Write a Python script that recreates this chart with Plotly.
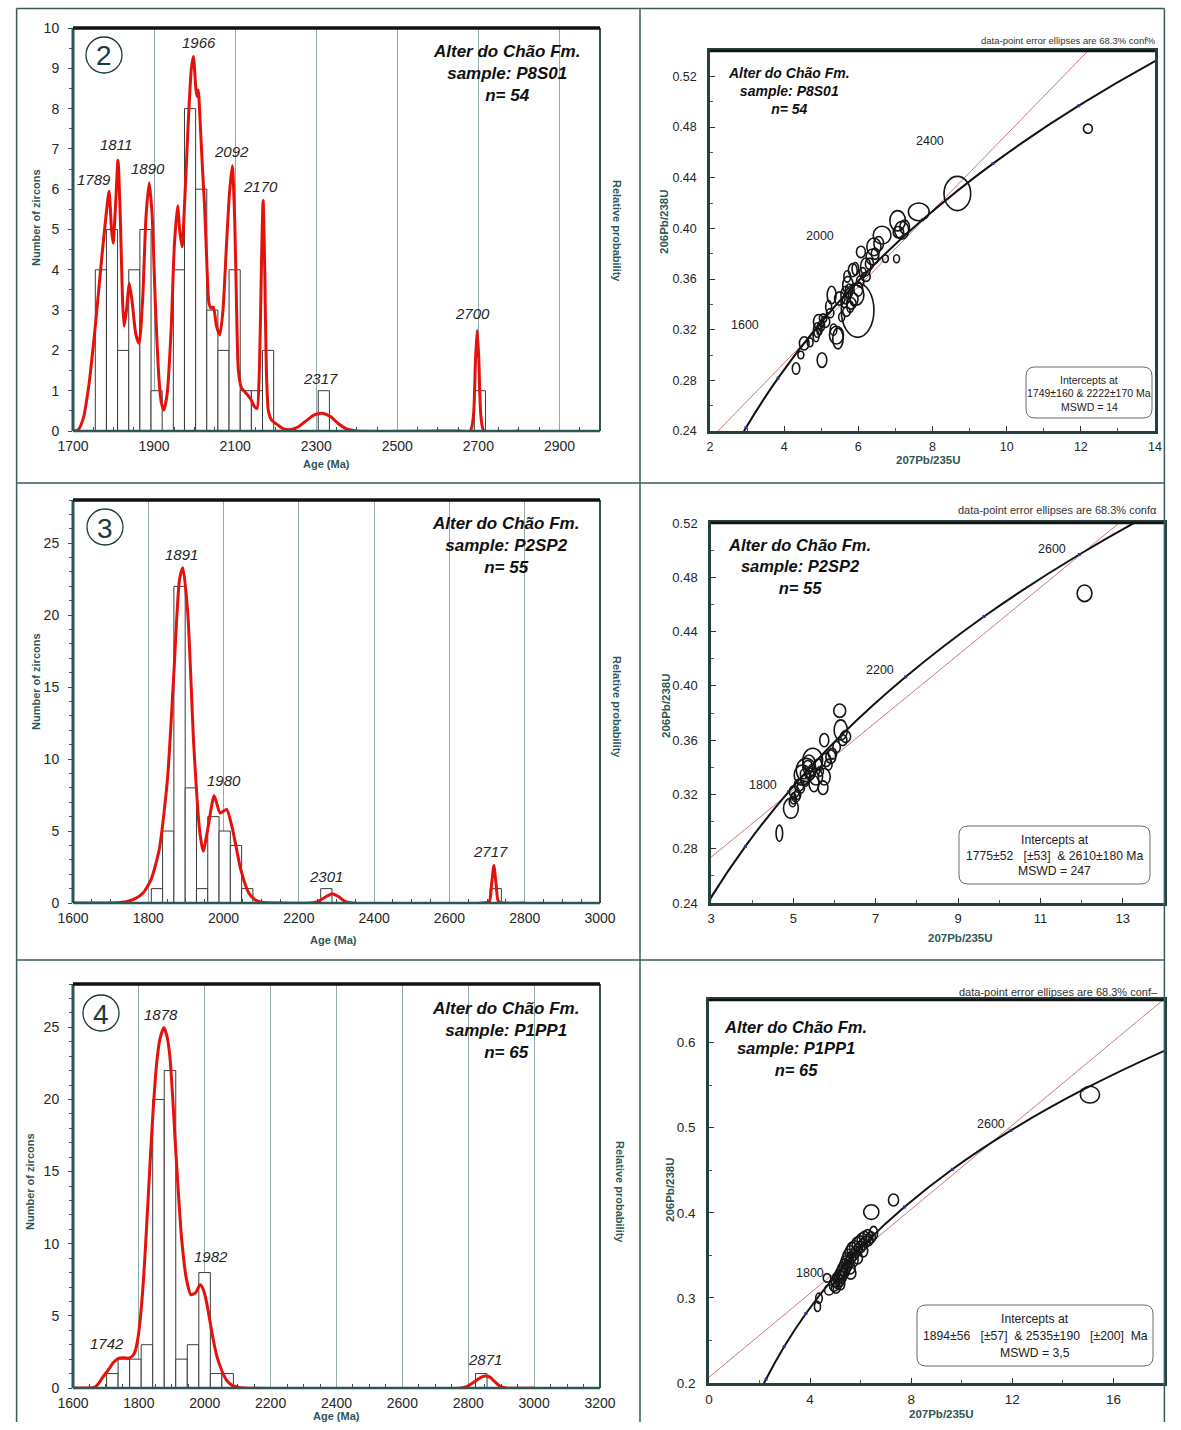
import plotly.graph_objects as go

W, H = 1181, 1430
FONT = "Liberation Sans, Arial, sans-serif"
TEAL = "#2d5757"
GRID = "#94aaaa"
INK = "#262626"
RED = "#e3120b"
FRAME = "#3d5a5a"

# ---------------- sample P8S01 ----------------
p8_bin_w = 27.5
p8_bin_mid = [1768.75, 1796.25, 1823.75, 1851.25, 1878.75, 1906.25, 1961.25, 1988.75,
              2016.25, 2043.75, 2071.25, 2098.75, 2126.25, 2153.75, 2181.25, 2318.75, 2703.75]
p8_counts = [4, 5, 2, 4, 5, 1, 4, 8, 6, 3, 2, 4, 1, 1, 2, 1, 1]
p8_pdf_age = [1700, 1712, 1725, 1740, 1755, 1770, 1782, 1789, 1795, 1799, 1805, 1811, 1817, 1822,
              1826, 1832, 1839, 1846, 1855, 1863, 1872, 1880, 1888, 1895, 1903, 1912, 1918, 1924,
              1932, 1942, 1950, 1958, 1963, 1969, 1976, 1985, 1992, 1997, 2003, 2006, 2009, 2014,
              2020, 2025, 2030, 2035, 2040, 2046, 2054, 2062, 2070, 2078, 2086, 2093, 2099, 2104,
              2108, 2116, 2126, 2138, 2148, 2154, 2160, 2165, 2169, 2173, 2177, 2182, 2190, 2205,
              2220, 2235, 2255, 2275, 2295, 2315, 2335, 2355, 2375, 2400, 2650, 2680, 2688, 2693,
              2697, 2701, 2706, 2714, 2800]
p8_pdf_val = [0, 0.02, 0.3, 1.2, 2.6, 4.2, 5.4, 5.95, 5.0, 4.66, 5.6, 6.72, 5.2, 3.3,
              2.6, 3.0, 3.66, 3.2, 2.4, 2.18, 3.3, 5.3, 6.16, 5.4, 3.2, 1.3, 0.7, 0.52,
              0.9, 2.5, 4.6, 5.59, 5.0, 4.57, 5.8, 7.8, 9.0, 9.29, 8.5, 8.3, 8.46, 7.6,
              6.4, 5.5, 4.2, 3.2, 3.05, 3.08, 2.6, 2.38, 3.0, 4.5, 5.9, 6.58, 5.2, 2.8,
              1.5, 1.06, 0.95, 0.8, 0.6, 0.56, 1.6, 4.2, 5.72, 4.0, 1.5, 0.5, 0.27, 0.15,
              0.05, 0.03, 0.1, 0.25, 0.4, 0.44, 0.36, 0.18, 0.05, 0, 0, 0, 0.4, 1.8,
              2.5, 1.8, 0.4, 0, 0]
p8_peaks = ["1789", "1811", "1890", "1966", "2092", "2170", "2317", "2700"]

# ---------------- sample P2SP2 ----------------
p2_bin_w = 30
p2_bin_mid = [1823, 1853, 1883, 1913, 1943, 1973, 2003, 2033, 2063, 2273, 2723]
p2_counts = [1, 5, 22, 8, 1, 6, 5, 4, 1, 1, 1]
p2_pdf_age = [1600, 1700, 1730, 1750, 1765, 1786, 1807, 1829, 1851, 1867, 1883, 1892, 1905,
              1921, 1937, 1946, 1959, 1975, 1991, 2008, 2024, 2046, 2067, 2085, 2100, 2150,
              2230, 2250, 2270, 2288, 2305, 2320, 2340, 2690, 2706, 2712, 2718, 2724, 2730,
              2745, 2800]
p2_pdf_val = [0, 0, 0.05, 0.15, 0.3, 0.7, 1.6, 3.7, 8.6, 15.5, 22.5, 23.3, 20.1,
              10.9, 4.9, 3.6, 5.3, 7.45, 6.25, 6.5, 5.1, 2.3, 0.7, 0.2, 0.05, 0,
              0, 0.1, 0.4, 0.65, 0.45, 0.15, 0, 0, 0.1, 1.3, 2.6, 1.3, 0.1,
              0, 0]
p2_peaks = ["1891", "1980", "2301", "2717"]

# ---------------- sample P1PP1 ----------------
p1_bin_w = 35
p1_bin_mid = [1719.5, 1754.5, 1789.5, 1824.5, 1859.5, 1894.5, 1929.5, 1964.5, 1999.5,
              2034.5, 2069.5, 2839.5]
p1_counts = [1, 2, 2, 3, 20, 22, 2, 3, 8, 1, 1, 1]
p1_pdf_age = [1600, 1650, 1665, 1677, 1692, 1707, 1722, 1738, 1755, 1768, 1780, 1788, 1796,
              1803, 1814, 1824, 1834, 1844, 1854, 1864, 1876, 1886, 1894, 1902, 1910, 1920,
              1930, 1944, 1958, 1972, 1986, 1996, 2006, 2016, 2026, 2038, 2051, 2066, 2082,
              2100, 2120, 2780, 2800, 2820, 2840, 2853, 2866, 2880, 2895, 2915, 3000]
p1_pdf_val = [0, 0, 0.05, 0.3, 0.8, 1.25, 1.75, 2.06, 2.1, 2.06, 2.2, 2.5, 3.3,
              4.5, 7.5, 11.4, 15.6, 19.5, 22.5, 24.2, 24.98, 24.3, 23.0, 20.4, 17.2, 13.5,
              10.3, 7.6, 6.46, 6.6, 7.15, 6.8, 5.88, 4.6, 3.33, 2.1, 1.25, 0.55, 0.2,
              0.05, 0, 0, 0.15, 0.45, 0.75, 0.83, 0.75, 0.45, 0.15, 0, 0]
p1_peaks = ["1742", "1878", "1982", "2871"]

# ---------------- concordia (ages in Ma) ----------------
conc_age = [1000, 1200, 1400, 1600, 1800, 2000, 2200, 2400, 2600, 2800, 3000, 3200]
conc_x = [1.6774, 2.2603, 2.9701, 3.8345, 4.8868, 6.1687, 7.7291, 9.6297, 11.944, 14.762, 18.193, 22.372]
conc_y = [0.1678, 0.2046, 0.2426, 0.2817, 0.3221, 0.3638, 0.4067, 0.4511, 0.4968, 0.5440, 0.5926, 0.6428]

# discordia chords (ends at the plot frame)
p8_disc_x = [2.215, 12.19]
p8_disc_y = [0.24, 0.54]
p2_disc_x = [3.0, 12.91]
p2_disc_y = [0.2737, 0.52]
p1_disc_x = [0.0, 18.0]
p1_disc_y = [0.2067, 0.651]

# error ellipses: centre (x, y) and half-axes (a along 207/235, b along 206/238)
p8_ell_x = [8.67, 7.63, 7.06, 7.17, 7.08, 6.64, 6.42, 6.38, 6.07, 6.73, 7.03, 6.20, 5.85, 6.20,
            5.98, 5.94, 5.72, 5.66, 5.81, 5.68, 5.28, 4.93, 5.11, 4.89, 5.41, 5.45, 4.54, 4.45,
            5.02, 4.32, 5.24, 5.50, 12.19, 5.75, 5.88, 6.05, 6.12, 5.62, 5.78, 5.00, 4.86, 5.05,
            4.95, 6.30, 6.45, 5.70, 5.92, 6.55, 5.55, 5.33, 4.70, 5.20, 6.00, 7.25]
p8_ell_y = [0.4275, 0.413, 0.406, 0.3985, 0.397, 0.3946, 0.3854, 0.3775, 0.3814, 0.376, 0.376,
            0.3696, 0.367, 0.3617, 0.3354, 0.3473, 0.3551, 0.3473, 0.3407, 0.3341, 0.3473, 0.3262,
            0.3262, 0.3197, 0.3157, 0.313, 0.3092, 0.30, 0.296, 0.2894, 0.333, 0.3446, 0.4787,
            0.3505, 0.344, 0.358, 0.365, 0.342, 0.338, 0.323, 0.315, 0.329, 0.32, 0.372, 0.38,
            0.362, 0.368, 0.388, 0.33, 0.32, 0.31, 0.338, 0.352, 0.401]
p8_ell_a = [0.36, 0.28, 0.21, 0.19, 0.14, 0.24, 0.19, 0.17, 0.12, 0.08, 0.08, 0.14, 0.12, 0.12,
            0.44, 0.21, 0.14, 0.13, 0.13, 0.10, 0.12, 0.14, 0.12, 0.10, 0.19, 0.14, 0.13, 0.08,
            0.13, 0.10, 0.10, 0.14, 0.12, 0.10, 0.11, 0.10, 0.09, 0.09, 0.09, 0.09, 0.08, 0.10,
            0.07, 0.11, 0.10, 0.09, 0.09, 0.13, 0.08, 0.09, 0.08, 0.08, 0.12, 0.13]
p8_ell_b = [0.0135, 0.0070, 0.0080, 0.0070, 0.0045, 0.0070, 0.0070, 0.0062, 0.0045, 0.0030, 0.0032,
            0.0070, 0.0052, 0.0036, 0.0215, 0.0080, 0.0070, 0.0070, 0.0045, 0.0036, 0.0070, 0.0058,
            0.0045, 0.0058, 0.0070, 0.0082, 0.0052, 0.0030, 0.0058, 0.0045, 0.0036, 0.0052, 0.0036,
            0.0055, 0.0050, 0.0045, 0.0040, 0.0045, 0.0045, 0.0040, 0.0045, 0.0035, 0.0040, 0.0045,
            0.0045, 0.0045, 0.0050, 0.0055, 0.0035, 0.0045, 0.0035, 0.0050, 0.0055, 0.0055]

p2_ell_x = [6.125, 6.15, 6.27, 5.75, 5.91, 5.79, 5.47, 5.31, 5.22, 5.55, 5.75, 5.14, 5.02, 5.06,
            4.98, 4.94, 4.66, 12.07, 5.35, 5.40, 5.28, 5.45, 5.60, 5.95, 6.05, 5.85, 5.65, 5.18,
            5.10, 5.25, 5.50, 5.72, 5.38, 6.20, 5.00]
p2_ell_y = [0.3817, 0.3675, 0.3626, 0.360, 0.3478, 0.3454, 0.3454, 0.338, 0.3343, 0.333, 0.333,
            0.327, 0.322, 0.3183, 0.3146, 0.3098, 0.2914, 0.4682, 0.340, 0.335, 0.330, 0.338,
            0.342, 0.350, 0.355, 0.342, 0.337, 0.325, 0.320, 0.335, 0.328, 0.325, 0.343, 0.360,
            0.317]
p2_ell_a = [0.145, 0.16, 0.12, 0.11, 0.12, 0.12, 0.24, 0.24, 0.20, 0.16, 0.145, 0.12, 0.12, 0.10,
            0.08, 0.18, 0.08, 0.18, 0.12, 0.10, 0.10, 0.09, 0.10, 0.10, 0.09, 0.09, 0.08, 0.09,
            0.08, 0.08, 0.12, 0.12, 0.15, 0.10, 0.07]
p2_ell_b = [0.0049, 0.0074, 0.0044, 0.0049, 0.0049, 0.0049, 0.0086, 0.0086, 0.0074, 0.0061, 0.0061,
            0.0044, 0.0044, 0.0037, 0.0037, 0.0074, 0.006, 0.0061, 0.005, 0.0045, 0.004, 0.004,
            0.004, 0.004, 0.004, 0.004, 0.0035, 0.004, 0.0035, 0.0035, 0.006, 0.005, 0.006, 0.004,
            0.004]

p1_ell_x = [15.07, 6.42, 7.30, 4.35, 4.29, 4.75, 5.61, 6.51, 4.67, 5.75,
            4.95, 5.00, 5.02, 5.08, 5.10, 5.15, 5.18, 5.22, 5.25, 5.28, 5.30, 5.35, 5.38, 5.40,
            5.42, 5.45, 5.48, 5.50, 5.55, 5.58, 5.62, 5.65, 5.70, 5.75, 5.80, 5.85, 5.90, 5.95,
            6.00, 6.05, 6.10, 6.15, 6.20, 6.28, 6.32, 6.40, 5.88, 5.60, 5.20, 6.10]
p1_ell_y = [0.5388, 0.4008, 0.415, 0.2996, 0.290, 0.3094, 0.329, 0.376, 0.3235, 0.345,
            0.315, 0.320, 0.312, 0.323, 0.317, 0.326, 0.320, 0.330, 0.324, 0.334, 0.328, 0.338,
            0.331, 0.342, 0.335, 0.346, 0.338, 0.350, 0.343, 0.354, 0.347, 0.358, 0.350, 0.360,
            0.354, 0.364, 0.357, 0.366, 0.360, 0.369, 0.363, 0.371, 0.366, 0.373, 0.368, 0.371,
            0.347, 0.335, 0.316, 0.355]
p1_ell_a = [0.38, 0.30, 0.20, 0.13, 0.12, 0.18, 0.20, 0.16, 0.15, 0.15,
            0.19, 0.17, 0.18, 0.19, 0.17, 0.19, 0.17, 0.19, 0.18, 0.19, 0.17, 0.19, 0.18, 0.19,
            0.17, 0.19, 0.18, 0.19, 0.17, 0.19, 0.18, 0.19, 0.17, 0.19, 0.18, 0.19, 0.17, 0.19,
            0.18, 0.19, 0.17, 0.19, 0.18, 0.19, 0.17, 0.18, 0.19, 0.18, 0.17, 0.18]
p1_ell_b = [0.0098, 0.0086, 0.0071, 0.006, 0.006, 0.006, 0.007, 0.008, 0.005, 0.008,
            0.0072, 0.0068, 0.0065, 0.0072, 0.0065, 0.0072, 0.0065, 0.0072, 0.0068, 0.0072, 0.0065,
            0.0072, 0.0068, 0.0072, 0.0065, 0.0072, 0.0068, 0.0072, 0.0065, 0.0072, 0.0068, 0.0072,
            0.0065, 0.0072, 0.0068, 0.0072, 0.0065, 0.0072, 0.0068, 0.0072, 0.0065, 0.0072, 0.0068,
            0.0072, 0.0065, 0.0068, 0.0072, 0.0068, 0.0065, 0.0068]

# ---------------------------------------------------------------------------
fig = go.Figure()
shapes = []
annotations = []

# layout positions below are given in screen pixels of the finished page; the
# paper area shows up on the page from (16, 8) to (1165, 1422)
PAPER_L, PAPER_T, PAPER_W, PAPER_H = 16.0, 8.0, 1149.0, 1414.0


def px(x):
    return (x - PAPER_L) / PAPER_W


def py(y):
    return 1 - (y - PAPER_T) / PAPER_H


def names(i):
    return ("x" if i == 1 else f"x{i}", "y" if i == 1 else f"y{i}")


def text(t, x, y, size, color=INK, bold=False, italic=False, xanchor="center", angle=0):
    if italic:
        t = f"<i>{t}</i>"
    if bold:
        t = f"<b>{t}</b>"
    annotations.append(dict(text=t, x=px(x), y=py(y), xref="paper", yref="paper",
                            showarrow=False, xanchor=xanchor, yanchor="middle",
                            textangle=angle,
                            font=dict(family=FONT, size=size, color=color)))


def dom_line(i, x0, y0, x1, y1, color, width):
    xa, ya = names(i)
    shapes.append(dict(type="line", xref=f"{xa} domain", yref=f"{ya} domain",
                       x0=x0, y0=y0, x1=x1, y1=y1, line=dict(color=color, width=width)))


def page_line(x0, y0, x1, y1, color=FRAME, width=1.5):
    shapes.append(dict(type="line", xref="paper", yref="paper", x0=px(x0), y0=py(y0),
                       x1=px(x1), y1=py(y1), line=dict(color=color, width=width)))


def rounded_box(x0, y0, x1, y1, r):
    def p(x, y):
        return f"{px(x):.5f},{py(y):.5f}"
    path = (f"M {p(x0 + r, y0)} L {p(x1 - r, y0)} Q {p(x1, y0)} {p(x1, y0 + r)} "
            f"L {p(x1, y1 - r)} Q {p(x1, y1)} {p(x1 - r, y1)} L {p(x0 + r, y1)} "
            f"Q {p(x0, y1)} {p(x0, y1 - r)} L {p(x0, y0 + r)} Q {p(x0, y0)} {p(x0 + r, y0)} Z")
    shapes.append(dict(type="path", xref="paper", yref="paper", path=path,
                       line=dict(color="#6a6a6a", width=1)))


def hist_panel(i, box, xr, yr, ydt, ysub, mids, counts, bw, ages, vals,
               peaks, peak_pos, sample, n, badge, badge_xy, title_xy, ytl_xy, rp_xy, age_xy):
    xa, ya = names(i)
    fig.add_trace(go.Bar(x=mids, y=counts, width=bw,
                         marker=dict(color="white", line=dict(color="#3a3a3a", width=1)),
                         xaxis=xa, yaxis=ya, hoverinfo="skip"))
    fig.add_trace(go.Scatter(x=ages, y=vals, mode="lines",
                             line=dict(color=RED, width=3, shape="spline", smoothing=0.6),
                             xaxis=xa, yaxis=ya, hoverinfo="skip"))
    l, t, r, b = box
    fig.update_layout(**{
        ("xaxis" if i == 1 else f"xaxis{i}"): dict(
            domain=[px(l), px(r)], anchor=ya, range=xr, tick0=xr[0], dtick=200,
            showgrid=True, gridcolor=GRID, gridwidth=1, zeroline=False, showline=False,
            ticks="", ticklabelstandoff=5, tickfont=dict(family=FONT, size=14, color=INK),
            minor=dict(ticks="inside", dtick=50, ticklen=4, tickcolor=TEAL, showgrid=False)),
        ("yaxis" if i == 1 else f"yaxis{i}"): dict(
            domain=[py(b), py(t)], anchor=xa, range=yr, dtick=ydt, showgrid=False,
            zeroline=False, showline=False, ticks="outside", ticklen=4, tickcolor=TEAL,
            ticklabelstandoff=6, tickfont=dict(family=FONT, size=14, color=INK),
            minor=dict(ticks="outside", dtick=ysub, ticklen=3, tickcolor=TEAL)),
    })
    dom_line(i, 0, 0, 1, 0, TEAL, 2.5)
    dom_line(i, 0, 0, 0, 1, TEAL, 3)
    dom_line(i, 1, 0, 1, 1, "#34504f", 2)
    dom_line(i, 0, 1, 1, 1, "#111111", 3.5)
    for lab, (x, y) in zip(peaks, peak_pos):
        text(lab, x, y, 15, italic=True)
    text(f"Alter do Chão Fm.<br>sample: {sample}<br>n= {n}", title_xy[0], title_xy[1], 17,
         color="#111111", bold=True, italic=True)
    cx, cy = badge_xy
    rr = 18
    shapes.append(dict(type="circle", xref="paper", yref="paper", x0=px(cx - rr), x1=px(cx + rr),
                       y0=py(cy + rr), y1=py(cy - rr), line=dict(color="#1e3a3a", width=1.3)))
    text(badge, cx, cy + 1, 28, color="#1e3a3a")
    text("Number of zircons", ytl_xy[0], ytl_xy[1], 11, color=TEAL, bold=True, angle=-90)
    text("Relative probability", rp_xy[0], rp_xy[1], 11, color=TEAL, bold=True, angle=90)
    text("Age (Ma)", age_xy[0], age_xy[1], 11, color=TEAL, bold=True)


def conc_panel(i, box, xr, x0, xdt, xsub, yr, ydt, ysub, yfmt, ex, ey, ea, eb, dx, dy,
               sample, n, title_xy, title_size, age_labels, note, note_xy, note_size,
               box_px, lines_y, lines, lines_size, ytl_xy, xtl_xy, tick_size):
    xa, ya = names(i)
    fig.add_trace(go.Scatter(x=dx, y=dy, mode="lines", line=dict(color="#c97a7a", width=1),
                             xaxis=xa, yaxis=ya, hoverinfo="skip"))
    fig.add_trace(go.Scatter(x=conc_x, y=conc_y, mode="lines+markers",
                             line=dict(color="#111111", width=2, shape="spline", smoothing=0.8),
                             marker=dict(color="#2a35a0", size=3, symbol="square"),
                             xaxis=xa, yaxis=ya, hoverinfo="skip"))
    l, t, r, b = box
    fig.update_layout(**{
        f"xaxis{i}": dict(
            domain=[px(l), px(r)], anchor=ya, range=xr, tick0=x0, dtick=xdt,
            showgrid=False, zeroline=False, showline=True, linecolor="#24403f", linewidth=2.5,
            mirror=True, ticks="inside", ticklen=5, tickcolor="#333", ticklabelstandoff=2,
            tickfont=dict(family=FONT, size=tick_size, color=INK),
            minor=dict(ticks="inside", dtick=xsub, ticklen=3, tickcolor="#555")),
        f"yaxis{i}": dict(
            domain=[py(b), py(t)], anchor=xa, range=yr, dtick=ydt, tickformat=yfmt,
            showgrid=False, zeroline=False, showline=True, linecolor="#24403f", linewidth=2.5,
            mirror=True, ticks="inside", ticklen=5, tickcolor="#333", ticklabelstandoff=8,
            tickfont=dict(family=FONT, size=tick_size, color=INK),
            minor=dict(ticks="inside", dtick=ysub, ticklen=3, tickcolor="#555")),
    })
    dom_line(i, 0, 1, 1, 1, "#111111", 2.5)
    for cx, cy, a, bb in zip(ex, ey, ea, eb):
        shapes.append(dict(type="circle", xref=xa, yref=ya, x0=cx - a, x1=cx + a,
                           y0=cy - bb, y1=cy + bb, line=dict(color="#151515", width=1.6)))
    text(f"Alter do Chão Fm.<br>sample: {sample}<br>n= {n}", title_xy[0], title_xy[1],
         title_size, color="#111111", bold=True, italic=True)
    for lab, (x, y) in age_labels:
        text(lab, x, y, 12.5, color="#222222")
    text(note, note_xy[0], note_xy[1], note_size, color="#333333", xanchor="right")
    rounded_box(*box_px, 9)
    for s, y in zip(lines, lines_y):
        text(s, (box_px[0] + box_px[2]) / 2, y, lines_size, color="#222222")
    text("206Pb/238U", ytl_xy[0], ytl_xy[1], 11.5, color=TEAL, bold=True, angle=-90)
    text("207Pb/235U", xtl_xy[0], xtl_xy[1], 11.5, color=TEAL, bold=True)


# ---- left column: age histograms ----
hist_panel(1, (73, 28, 600, 431), [1700, 3000], [0, 10], 1, 0.5,
           p8_bin_mid, p8_counts, p8_bin_w, p8_pdf_age, p8_pdf_val, p8_peaks,
           [(94, 180), (116, 145), (148, 168), (199, 42), (231, 151), (260, 187), (320, 378), (472, 313)],
           "P8S01", 54, "2", (104, 55), (506, 74), (36, 218), (617, 231), (326, 464))
hist_panel(3, (73, 500, 600, 903), [1600, 3000], [0, 28], 5, 1,
           p2_bin_mid, p2_counts, p2_bin_w, p2_pdf_age, p2_pdf_val, p2_peaks,
           [(181, 554), (224, 781), (326, 876), (491, 851)],
           "P2SP2", 55, "3", (105, 527), (505, 546), (36, 682), (617, 707), (333, 940))
hist_panel(5, (73, 984, 600, 1388), [1600, 3200], [0, 28], 5, 1,
           p1_bin_mid, p1_counts, p1_bin_w, p1_pdf_age, p1_pdf_val, p1_peaks,
           [(107, 1343), (161, 1014), (211, 1256), (485, 1359)],
           "P1PP1", 65, "4", (101, 1013), (505, 1030), (30, 1182), (620, 1192), (336, 1416))

# ---- right column: concordia diagrams ----
conc_panel(2, (710, 51, 1155, 431), [2, 14], 2, 2, 1, [0.24, 0.54], 0.04, 0.02, ".2f",
           p8_ell_x, p8_ell_y, p8_ell_a, p8_ell_b, p8_disc_x, p8_disc_y,
           "P8S01", 54, (789, 91), 14,
           [("2400", (930, 141)), ("2000", (820, 236)), ("1600", (745, 325))],
           "data-point error ellipses are 68.3% conf%", (1158, 40), 9.5,
           (1026, 367, 1152, 418), [380, 393, 407],
           ["Intercepts at", "1749±160 & 2222±170 Ma", "MSWD = 14"], 10.5,
           (664, 222), (928, 460), 12.5)
conc_panel(4, (711, 523, 1164, 903), [3, 14], 3, 2, 1, [0.24, 0.52], 0.04, 0.02, ".2f",
           p2_ell_x, p2_ell_y, p2_ell_a, p2_ell_b, p2_disc_x, p2_disc_y,
           "P2SP2", 55, (799, 566), 16.5,
           [("2600", (1052, 549)), ("2200", (880, 670)), ("1800", (763, 785))],
           "data-point error ellipses are 68.3% confα", (1159, 510), 11,
           (959, 826, 1150, 884), [840, 856, 871],
           ["Intercepts at", "1775±52&nbsp;&nbsp;&nbsp;[±53]&nbsp;&nbsp;& 2610±180 Ma", "MSWD = 247"], 12.2,
           (666, 706), (960, 938), 13)
conc_panel(6, (709, 1000, 1164, 1383), [0, 18], 0, 4, 2, [0.2, 0.65], 0.1, 0.05, ".1f",
           p1_ell_x, p1_ell_y, p1_ell_a, p1_ell_b, p1_disc_x, p1_disc_y,
           "P1PP1", 65, (795, 1048), 16.5,
           [("2600", (991, 1124)), ("1800", (810, 1273))],
           "data-point error ellipses are 68.3% conf–", (1160, 992), 11,
           (917, 1305, 1153, 1366), [1319, 1336, 1353],
           ["Intercepts at",
            "1894±56&nbsp;&nbsp;&nbsp;[±57]&nbsp;&nbsp;& 2535±190&nbsp;&nbsp;&nbsp;[±200]&nbsp;&nbsp;Ma",
            "MSWD = 3,5"], 12.2,
           (670, 1190), (941, 1414), 13.5)

# ---- page frame and panel dividers ----
page_line(16.6, 8.6, 16.6, 1422)
page_line(16.6, 8.6, 1164.4, 8.6)
page_line(1164.4, 8.6, 1164.4, 1422)
page_line(640, 8.6, 640, 1422)
page_line(16.6, 483, 1164.4, 483)
page_line(16.6, 960, 1164.4, 960)

fig.update_layout(width=W, height=H, autosize=False, margin=dict(l=0, r=0, t=0, b=0, pad=0),
                  paper_bgcolor="white", plot_bgcolor="white", showlegend=False,
                  shapes=shapes, annotations=annotations,
                  font=dict(family=FONT, color=INK))

fig.write_html("out.html", config={"responsive": False})
